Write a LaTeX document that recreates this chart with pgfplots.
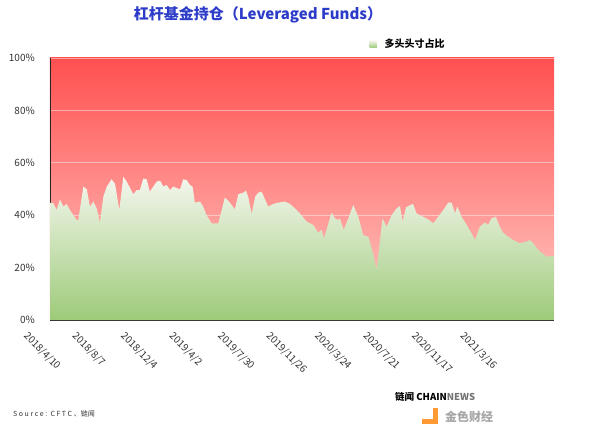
\documentclass[border=0pt]{standalone}
\usepackage{fontspec}
\setmainfont{Noto Sans CJK SC}
\usepackage{pgfplots}
\pgfplotsset{compat=1.18}

\definecolor{redtop}{RGB}{255,80,80}
\definecolor{redbot}{RGB}{255,205,200}
\definecolor{greentop}{RGB}{244,246,238}
\definecolor{greenbot}{RGB}{157,203,121}
\definecolor{legsq}{RGB}{168,208,141}
\definecolor{titleblue}{RGB}{45,60,200}
\definecolor{ticktext}{RGB}{51,51,51}

% weekly CFTC data, x = weeks since 2018/4/10, y = long share (%)
\pgfplotstableread{
w y
0.2 44.8
1.2 44.5
2.3 42.0
3.5 46.0
4.7 43.3
5.8 44.3
7.0 42.0
9.3 38.2
9.9 38.0
11.7 50.9
12.9 49.9
14.0 43.3
15.2 45.2
16.4 42.6
17.5 37.2
18.7 47.0
19.9 50.9
21.6 53.7
22.8 52.0
24.3 42.0
25.7 54.7
26.9 52.8
29.2 48.0
30.4 49.6
31.5 49.6
32.7 54.0
33.9 53.7
35.0 49.0
37.4 52.8
38.6 53.2
39.7 51.0
40.9 51.5
42.1 49.6
43.2 50.9
45.6 49.9
46.7 53.7
47.9 53.4
49.1 51.5
50.0 50.9
50.8 44.8
52.6 45.2
53.7 43.3
54.9 40.0
56.7 36.9
59.0 36.9
60.2 42.0
61.3 46.8
63.1 44.8
64.8 42.2
66.0 48.0
67.8 48.6
68.7 49.4
69.5 47.0
70.7 40.5
71.9 47.0
73.0 48.6
74.2 49.0
75.4 46.0
76.5 43.3
78.3 44.3
80.0 44.8
82.4 45.2
84.1 44.3
86.5 42.0
87.6 40.7
90.0 37.5
92.3 36.3
94.0 33.3
95.2 34.4
96.1 31.2
97.6 36.9
98.7 41.0
99.9 38.8
101.1 38.2
101.6 38.8
103.0 34.4
104.6 38.8
106.3 43.9
108.1 39.4
109.8 32.4
111.6 31.8
113.3 25.4
114.5 19.1
115.7 30.5
116.6 38.8
118.0 35.6
119.8 40.0
121.5 42.6
122.7 43.5
123.6 37.5
124.8 43.0
126.2 43.8
127.3 44.3
128.5 40.7
130.3 39.7
132.6 38.4
134.4 36.9
136.1 39.4
137.9 42.0
139.6 44.8
140.8 44.8
142.0 40.7
142.8 43.3
144.3 39.4
146.1 36.3
147.8 33.1
149.0 30.5
150.7 35.6
152.5 37.2
153.6 36.3
154.8 38.8
156.3 39.4
157.7 35.6
158.9 33.3
160.6 31.8
162.4 30.5
164.7 29.3
167.1 29.9
168.2 30.5
169.4 29.3
171.2 26.7
172.9 25.2
174.1 24.2
176.7 24.4
}\longshare

\begin{document}
\begin{tikzpicture}
\begin{axis}[
    scale only axis,
    width=504pt, height=262pt,
    xmin=0, xmax=176.7,
    ymin=0, ymax=100,
    axis x line*=bottom,
    axis y line*=left,
    axis line style={black!85, line width=0.8pt},
    axis background/.style={top color=redtop, bottom color=redbot},
    ymajorgrids,
    major grid style={white, opacity=0.45, line width=0.6pt},
    major tick length=0pt,
    ytick={0,20,40,60,80,100},
    yticklabels={0\%,20\%,40\%,60\%,80\%,100\%},
    yticklabel style={inner sep=0pt, anchor=east, xshift=-15pt, text=ticktext, font=\fontsize{10}{12}\selectfont},
    xtick={0,17,34,51,68,85,102,119,136,153},
    xticklabels={2018/4/10,2018/8/7,2018/12/4,2019/4/2,2019/7/30,2019/11/26,2020/3/24,2020/7/21,2020/11/17,2021/3/16},
    xticklabel style={xshift=-21pt, yshift=-11pt, rotate=-45, anchor=north west, inner sep=0pt, text=ticktext, font=\fontsize{10}{12}\selectfont},
    legend style={at={(rel axis cs:0.634,1.053)}, anchor=west, draw=none, fill=none,
        font=\bfseries\fontsize{10}{12}\selectfont, inner sep=0pt,
        /tikz/every odd column/.append style={column sep=6pt}},
    legend image code/.code={\fill[legsq] (0pt,-3.5pt) rectangle (7pt,3.5pt);},
    clip=false,
]
\addplot[draw=none, top color=greentop, bottom color=greenbot] table[x=w, y=y] {\longshare} \closedcycle;
\addlegendentry{多头头寸占比}
\end{axis}

\begin{scope}[shift={(current axis.south west)}]
\node[text=titleblue, font=\bfseries\fontsize{15}{18}\selectfont] at (208pt,305pt) {杠杆基金持仓（Leveraged Funds）};
\node[anchor=west, text=black!80, font=\fontsize{7}{8}\selectfont, inner sep=0pt] at (-37pt,-94pt) {S o u r c e :\ \ C F T C 、链闻};
\node[anchor=west, font=\bfseries\fontsize{9.5}{11}\selectfont, inner sep=0pt] at (345pt,-77pt) {链闻 CHAIN\textcolor{black!55}{NEWS}};
\node[anchor=west, font=\bfseries\fontsize{12}{14}\selectfont, text=black!35, inner sep=0pt] at (395pt,-97pt) {金色财经};
\fill[orange!80] (372pt,-104pt) rectangle (388pt,-99pt);
\fill[orange!80] (383pt,-99pt) rectangle (388pt,-88pt);
\end{scope}

\pgfresetboundingbox
\path[use as bounding box] (current axis.south west) ++(-50pt,-114pt) rectangle ++(600pt,434pt);
\end{tikzpicture}
\end{document}
